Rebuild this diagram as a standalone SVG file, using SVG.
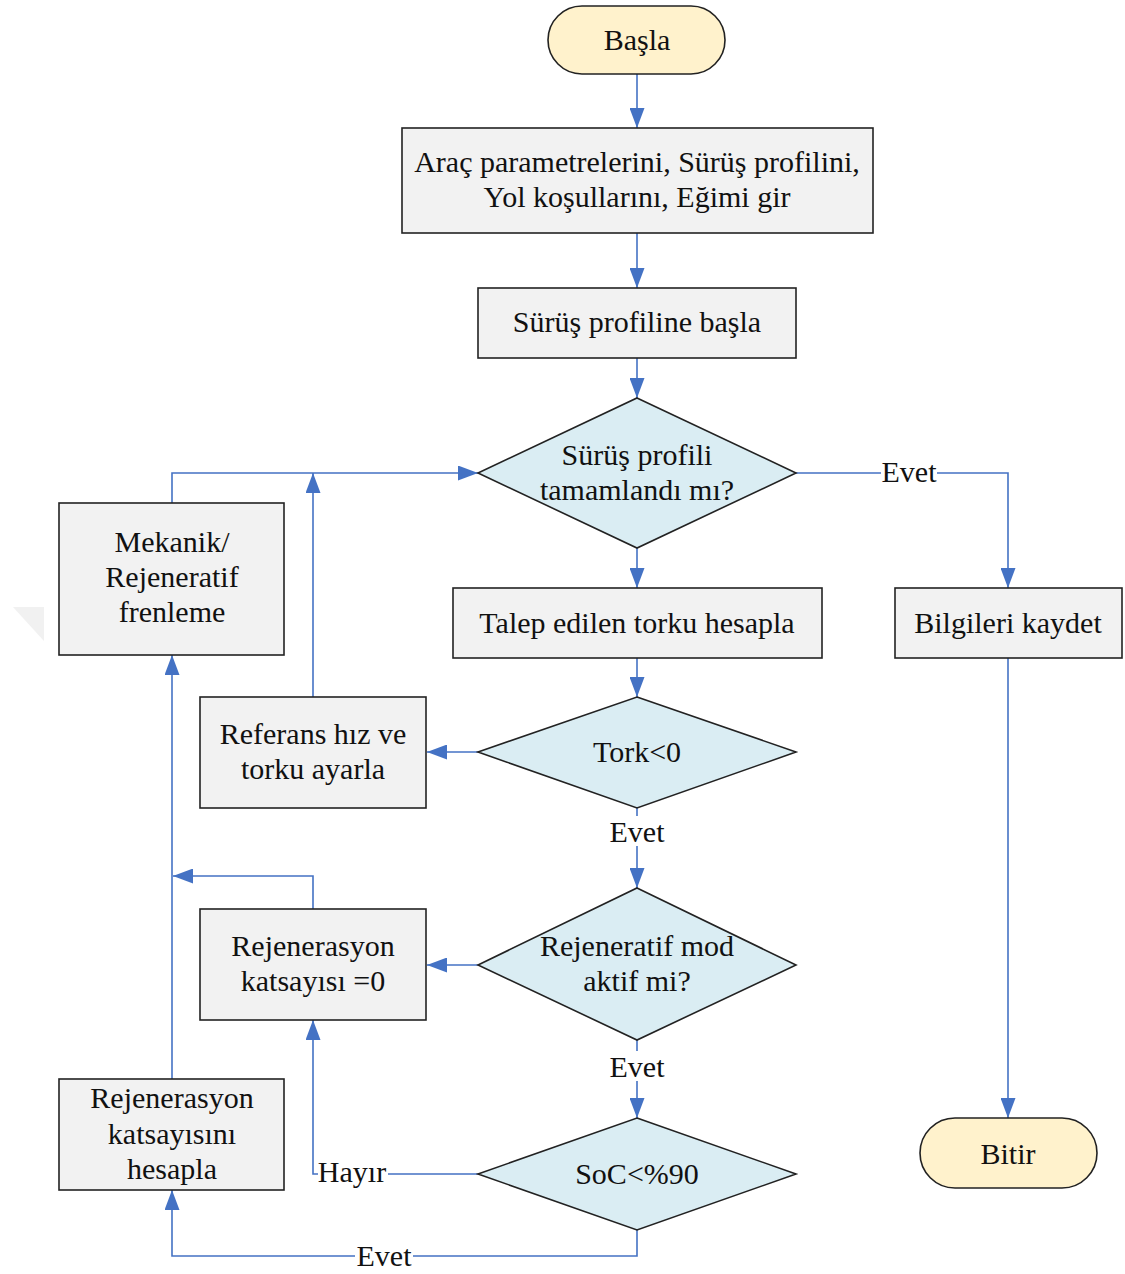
<svg xmlns="http://www.w3.org/2000/svg" width="1125" height="1274" viewBox="0 0 1125 1274">
  <defs>
    <marker id="arr" viewBox="0 0 20 15" refX="20" refY="7.5" markerWidth="20" markerHeight="15" markerUnits="userSpaceOnUse" orient="auto">
      <path d="M0,0 L20,7.5 L0,15 Z" fill="#4472c4"/>
    </marker>
    <style>
      text { font-family: "Times New Roman", "Liberation Serif", Tinos, "DejaVu Serif", serif; font-size: 30px; fill: #111; text-anchor: middle; dominant-baseline: central; }
      .box { fill: #f2f2f2; stroke: #222; stroke-width: 1.6; }
      .dec { fill: #daedf3; stroke: #222; stroke-width: 1.6; }
      .term { fill: #fff2cc; stroke: #222; stroke-width: 1.6; }
      .wire { fill: none; stroke: #4472c4; stroke-width: 1.6; }
      .lblbg { fill: #ffffff; }
    </style>
  </defs>
  <rect width="1125" height="1274" fill="#ffffff"/>
  <polygon points="13,607 44,607 44,641" fill="#f1f1f1"/>

  <g id="connectors">
    <path class="wire" d="M637,74 V128" marker-end="url(#arr)"/>
    <path class="wire" d="M637,233 V288" marker-end="url(#arr)"/>
    <path class="wire" d="M637,358 V398" marker-end="url(#arr)"/>
    <path class="wire" d="M796,473 H1008 V588" marker-end="url(#arr)"/>
    <path class="wire" d="M637,548 V588" marker-end="url(#arr)"/>
    <path class="wire" d="M1008,658 V1118" marker-end="url(#arr)"/>
    <path class="wire" d="M637,658 V697" marker-end="url(#arr)"/>
    <path class="wire" d="M478,752 H427" marker-end="url(#arr)"/>
    <path class="wire" d="M313,697 V473" marker-end="url(#arr)"/>
    <path class="wire" d="M172,503 V473 H478" marker-end="url(#arr)"/>
    <path class="wire" d="M637,808 V888" marker-end="url(#arr)"/>
    <path class="wire" d="M478,965 H427" marker-end="url(#arr)"/>
    <path class="wire" d="M313,909 V876 H173" marker-end="url(#arr)"/>
    <path class="wire" d="M172,1079 V655" marker-end="url(#arr)"/>
    <path class="wire" d="M637,1040 V1118" marker-end="url(#arr)"/>
    <path class="wire" d="M478,1174 H313 V1020" marker-end="url(#arr)"/>
    <path class="wire" d="M637,1230 V1256 H172 V1190" marker-end="url(#arr)"/>
    <g id="labels">
      <rect class="lblbg" x="881" y="460" width="56" height="26"/>
      <text x="909" y="471">Evet</text>
      <rect class="lblbg" x="608" y="816" width="58" height="30"/>
      <text x="637" y="831">Evet</text>
      <rect class="lblbg" x="608" y="1051" width="58" height="30"/>
      <text x="637" y="1066">Evet</text>
      <rect class="lblbg" x="318" y="1160" width="70" height="26"/>
      <text x="352" y="1171">Hayır</text>
      <rect class="lblbg" x="355" y="1244" width="58" height="26"/>
      <text x="384" y="1255">Evet</text>
    </g>
  </g>

  <g id="start">
    <rect class="term" x="548" y="6" width="177" height="68" rx="34"/>
    <text x="637" y="39">Başla</text>
  </g>
  <g id="input">
    <rect class="box" x="402" y="128" width="471" height="105"/>
    <text x="637" y="161">Araç parametrelerini, Sürüş profilini,</text>
    <text x="637" y="196">Yol koşullarını, Eğimi gir</text>
  </g>
  <g id="start-profile">
    <rect class="box" x="478" y="288" width="318" height="70"/>
    <text x="637" y="321">Sürüş profiline başla</text>
  </g>
  <g id="profile-done">
    <polygon class="dec" points="637,398 796,473 637,548 478,473"/>
    <text x="637" y="454">Sürüş profili</text>
    <text x="637" y="489">tamamlandı mı?</text>
  </g>
  <g id="torque-demand">
    <rect class="box" x="453" y="588" width="369" height="70"/>
    <text x="637" y="622">Talep edilen torku hesapla</text>
  </g>
  <g id="save">
    <rect class="box" x="895" y="588" width="227" height="70"/>
    <text x="1008" y="622">Bilgileri kaydet</text>
  </g>
  <g id="end">
    <rect class="term" x="920" y="1118" width="177" height="70" rx="35"/>
    <text x="1008" y="1153">Bitir</text>
  </g>
  <g id="torque-neg">
    <polygon class="dec" points="637,697 796,752 637,808 478,752"/>
    <text x="637" y="751">Tork&lt;0</text>
  </g>
  <g id="set-reference">
    <rect class="box" x="200" y="697" width="226" height="111"/>
    <text x="313" y="733">Referans hız ve</text>
    <text x="313" y="768">torku ayarla</text>
  </g>
  <g id="braking">
    <rect class="box" x="59" y="503" width="225" height="152"/>
    <text x="172" y="541">Mekanik/</text>
    <text x="172" y="576">Rejeneratif</text>
    <text x="172" y="611">frenleme</text>
  </g>
  <g id="regen-active">
    <polygon class="dec" points="637,888 796,965 637,1040 478,965"/>
    <text x="637" y="945">Rejeneratif mod</text>
    <text x="637" y="980">aktif mi?</text>
  </g>
  <g id="regen-zero">
    <rect class="box" x="200" y="909" width="226" height="111"/>
    <text x="313" y="945">Rejenerasyon</text>
    <text x="313" y="980">katsayısı =0</text>
  </g>
  <g id="soc-check">
    <polygon class="dec" points="637,1118 796,1174 637,1230 478,1174"/>
    <text x="637" y="1173">SoC&lt;%90</text>
  </g>
  <g id="regen-calc">
    <rect class="box" x="59" y="1079" width="225" height="111"/>
    <text x="172" y="1097">Rejenerasyon</text>
    <text x="172" y="1133">katsayısını</text>
    <text x="172" y="1168">hesapla</text>
  </g>
</svg>
